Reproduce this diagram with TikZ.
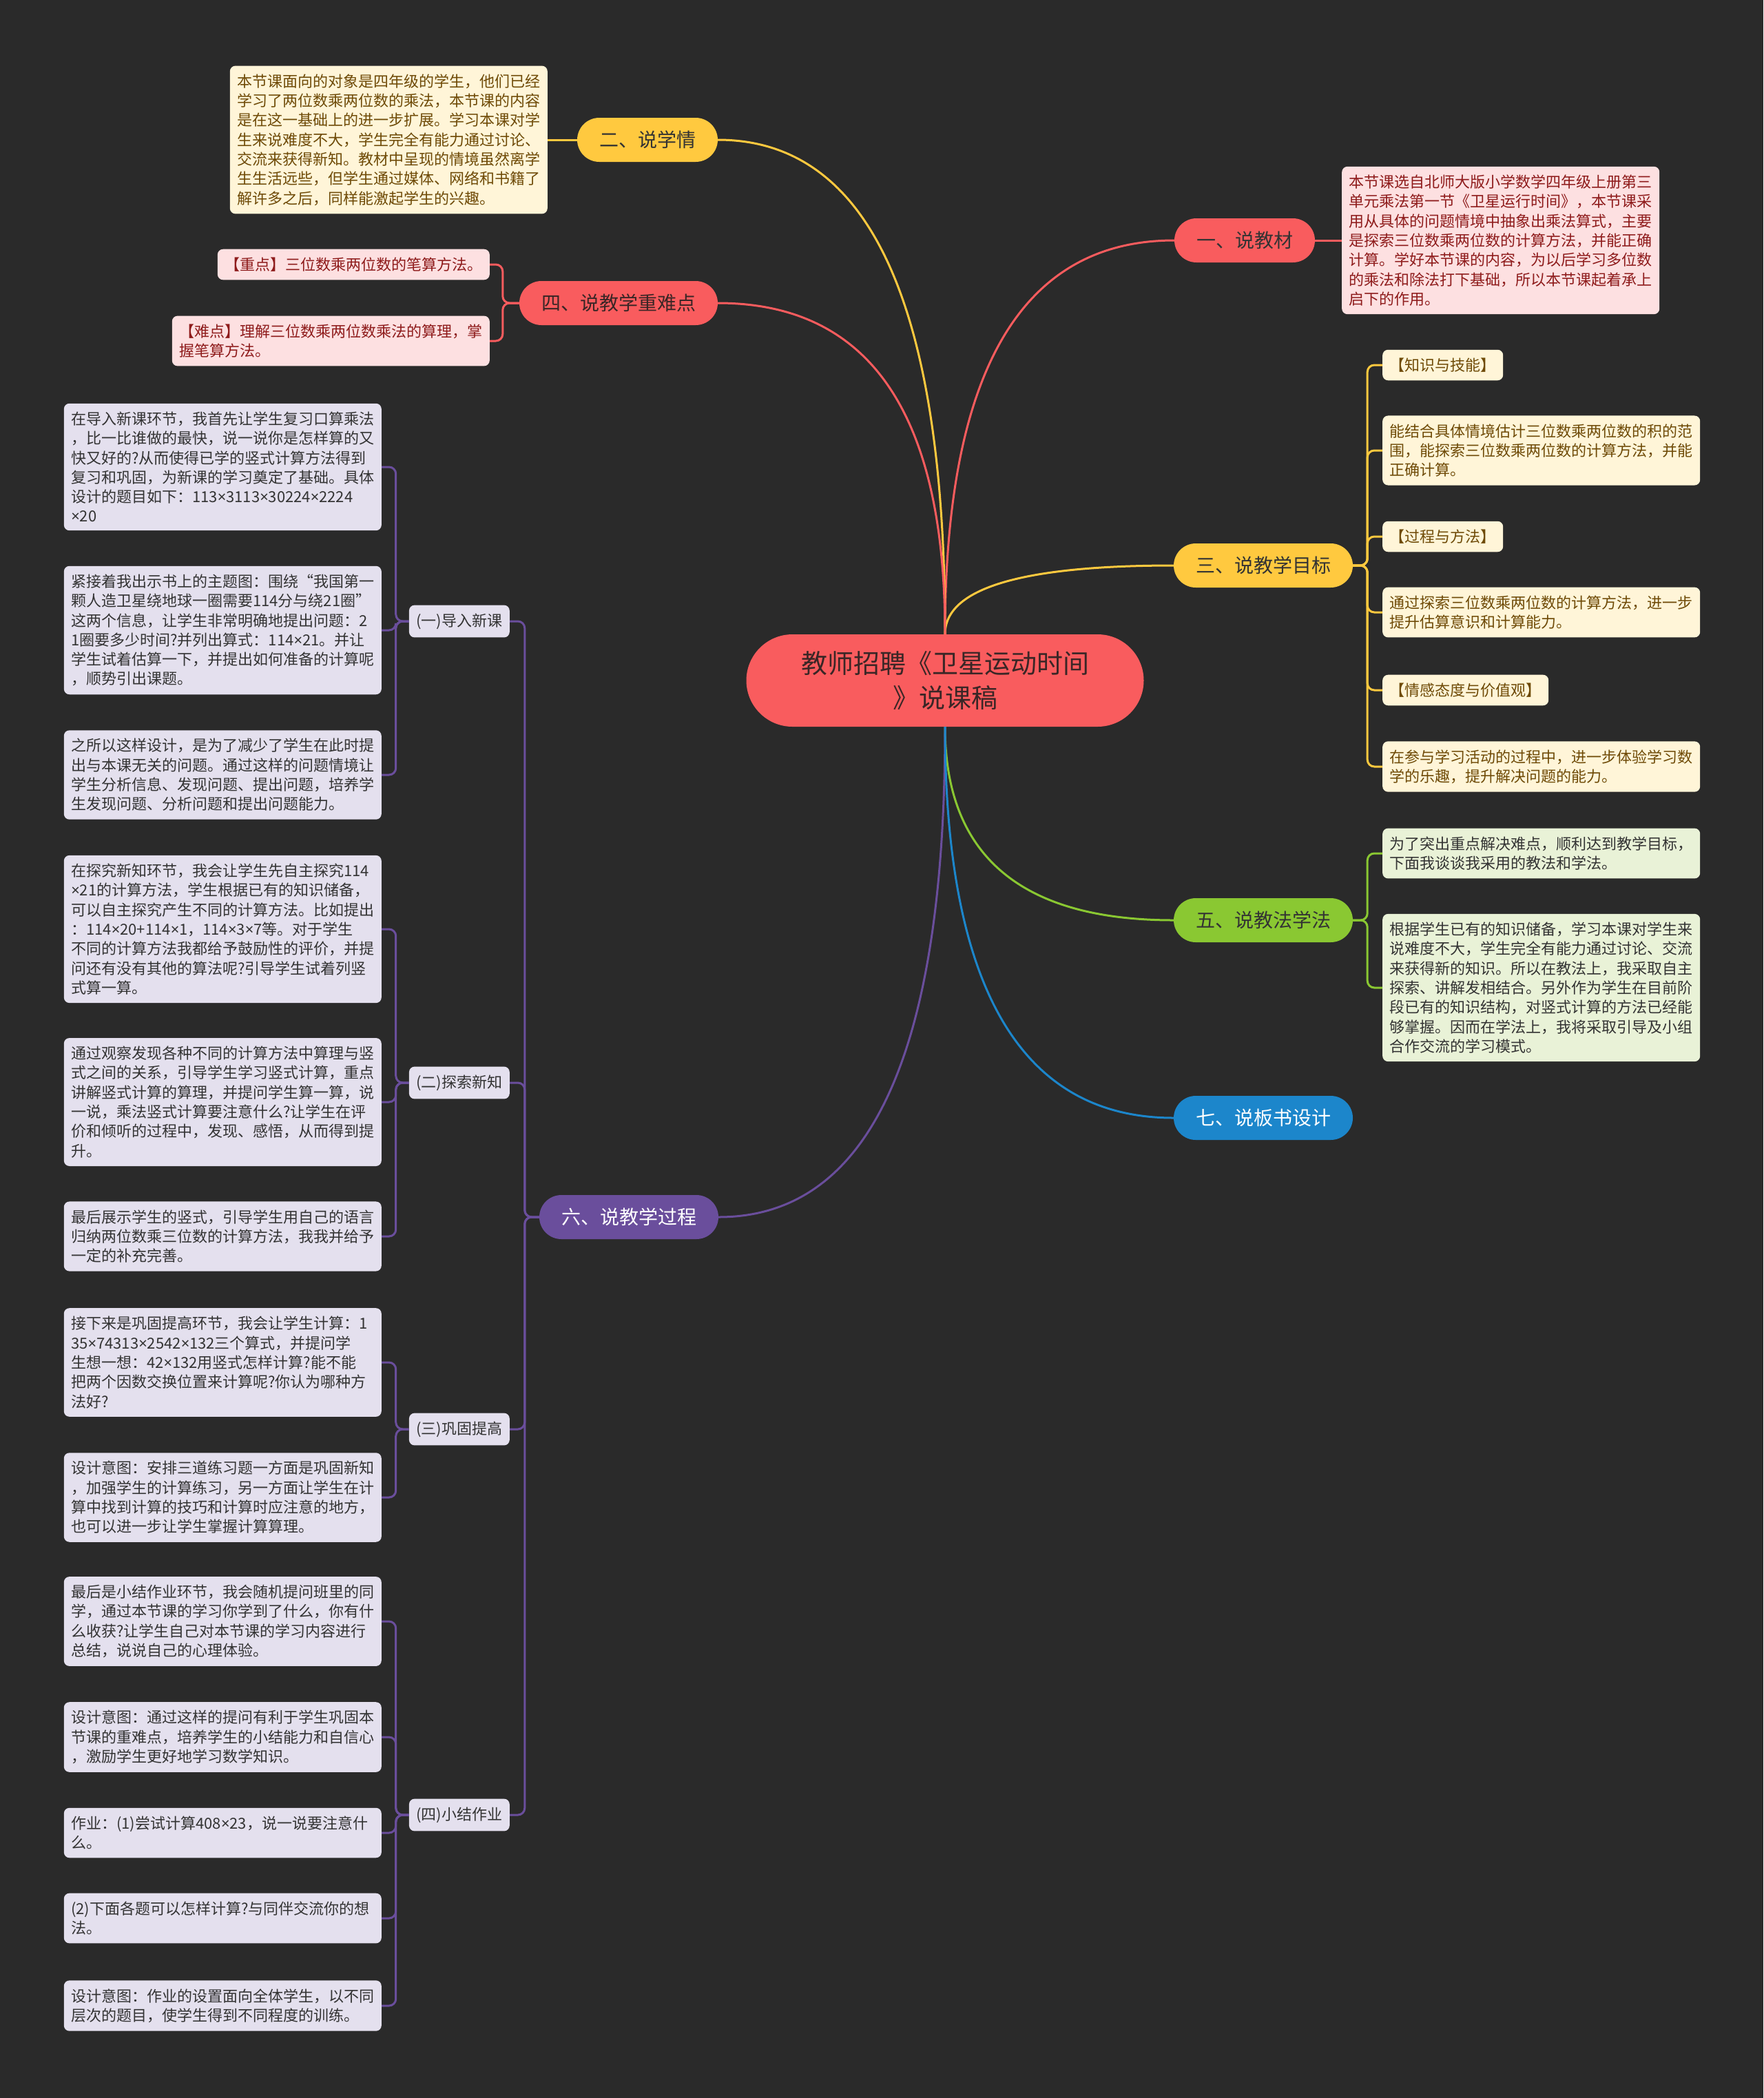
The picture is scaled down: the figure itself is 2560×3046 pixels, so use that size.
\documentclass[tikz,border=0pt]{standalone}
\usepackage{fontspec}
\setmainfont{Noto Sans CJK SC}
\newfontfamily\mulfont{Noto Sans}
\newcommand\tms{{\mulfont ×}}
\usepackage{xcolor}
\usetikzlibrary{calc}

\definecolor{bg}{HTML}{2A2A2A}
\definecolor{redc}{HTML}{F95C5E}
\definecolor{yelc}{HTML}{FFC93F}
\definecolor{grnc}{HTML}{8AC832}
\definecolor{bluc}{HTML}{1C86CB}
\definecolor{purc}{HTML}{6A4E9C}
\definecolor{roottext}{HTML}{3A2626}
\definecolor{darktext}{HTML}{333333}
\definecolor{creamfill}{HTML}{FFF5D8}
\definecolor{creamtext}{HTML}{6E4A06}
\definecolor{pinkfill}{HTML}{FDE0E1}
\definecolor{pinktext}{HTML}{8E1B1B}
\definecolor{limefill}{HTML}{E9F2D7}
\definecolor{lavfill}{HTML}{E4E0EE}

\tikzset{
  root/.style={fill=redc, text=roottext, rounded corners=67pt, minimum width=577pt,
    minimum height=134pt, text width=430pt, align=center, font=\fontsize{38}{50}\selectfont},
  topic/.style={rounded corners=32pt, minimum height=64pt, inner xsep=32pt, inner ysep=0pt,
    font=\fontsize{28}{34}\selectfont},
  leaf/.style={rounded corners=8pt, inner xsep=10.5pt, inner ysep=12pt, align=left,
    font=\fontsize{22}{28.3}\selectfont},
  wide/.style={text width=440pt},
  leafcream/.style={leaf, fill=creamfill, text=creamtext},
  leafpink/.style={leaf, fill=pinkfill, text=pinktext},
  leaflime/.style={leaf, fill=limefill, text=darktext},
  leaflav/.style={leaf, fill=lavfill, text=darktext},
  wire/.style={line width=3pt, rounded corners=10pt},
  limb/.style={line width=3pt, to path={.. controls ($(\tikztostart)!0.667!(\tikztostart |- \tikztotarget)$)
    and ($(\tikztotarget)!0.667!(\tikztostart |- \tikztotarget)$) .. (\tikztotarget)}},
}

\begin{document}
\begin{tikzpicture}[x=1pt,y=-1pt]
  \fill[bg] (0,0) rectangle (2560,3046);
  \useasboundingbox (0,0) rectangle (2560,3046);

  % centre and main topics
  \node[root] (root) at (1372,988) {教师招聘《卫星运动时间\\》说课稿};
  \node[topic, fill=redc, text=darktext] (b1) at (1807,349) {一、说教材};
  \node[topic, fill=yelc, text=darktext] (b2) at (940,203) {二、说学情};
  \node[topic, fill=yelc, text=darktext] (b3) at (1834,821) {三、说教学目标};
  \node[topic, fill=redc, text=roottext] (b4) at (898,440) {四、说教学重难点};
  \node[topic, fill=grnc, text=darktext] (b5) at (1834,1336) {五、说教法学法};
  \node[topic, fill=purc, text=white] (b6) at (913,1767) {六、说教学过程};
  \node[topic, fill=bluc, text=white] (b7) at (1834,1623) {七、说板书设计};

  \draw[limb, redc] (root.north) to (b1.west);
  \draw[limb, yelc] (root.north) to (b2.east);
  \draw[limb, yelc] (root.north) to (b3.west);
  \draw[limb, redc] (root.north) to (b4.east);
  \draw[limb, grnc] (root.south) to (b5.west);
  \draw[limb, purc] (root.south) to (b6.east);
  \draw[limb, bluc] (root.south) to (b7.west);

  % 一
  \node[leafpink, wide, anchor=west] (m1) at (1948,349) {本节课选自北师大版小学数学四年级上册第三\\单元乘法第一节《卫星运行时间》，本节课采\\用从具体的问题情境中抽象出乘法算式，主要\\是探索三位数乘两位数的计算方法，并能正确\\计算。学好本节课的内容，为以后学习多位数\\的乘法和除法打下基础，所以本节课起着承上\\启下的作用。};
  \draw[wire, redc] (b1.east) -- (m1.west);

  % 二
  \node[leafcream, wide, anchor=east] (p2) at (795,203) {本节课面向的对象是四年级的学生，他们已经\\学习了两位数乘两位数的乘法，本节课的内容\\是在这一基础上的进一步扩展。学习本课对学\\生来说难度不大，学生完全有能力通过讨论、\\交流来获得新知。教材中呈现的情境虽然离学\\生生活远些，但学生通过媒体、网络和书籍了\\解许多之后，同样能激起学生的兴趣。};
  \draw[wire, yelc] (b2.west) -- (p2.east);

  % 三
  \node[leafcream, anchor=west] (g1) at (2007,530) {【知识与技能】};
  \node[leafcream, wide, anchor=west] (g2) at (2007,654) {能结合具体情境估计三位数乘两位数的积的范\\围，能探索三位数乘两位数的计算方法，并能\\正确计算。};
  \node[leafcream, anchor=west] (g3) at (2007,779) {【过程与方法】};
  \node[leafcream, wide, anchor=west] (g4) at (2007,889) {通过探索三位数乘两位数的计算方法，进一步\\提升估算意识和计算能力。};
  \node[leafcream, anchor=west] (g5) at (2007,1002) {【情感态度与价值观】};
  \node[leafcream, wide, anchor=west] (g6) at (2007,1113) {在参与学习活动的过程中，进一步体验学习数\\学的乐趣，提升解决问题的能力。};
  \foreach \nm in {g1,g2,g3,g4,g5,g6}
    \draw[wire, yelc] (b3.east) -- ++(21,0) |- (\nm.west);

  % 四
  \node[leafpink, anchor=east] (d1) at (711,384) {【重点】三位数乘两位数的笔算方法。};
  \node[leafpink, wide, anchor=east] (d2) at (711,495) {【难点】理解三位数乘两位数乘法的算理，掌\\握笔算方法。};
  \foreach \nm in {d1,d2}
    \draw[wire, redc] (b4.west) -- ++(-24,0) |- (\nm.east);

  % 五
  \node[leaflime, wide, anchor=west] (f1) at (2007,1239) {为了突出重点解决难点，顺利达到教学目标，\\下面我谈谈我采用的教法和学法。};
  \node[leaflime, wide, anchor=west] (f2) at (2007,1434) {根据学生已有的知识储备，学习本课对学生来\\说难度不大，学生完全有能力通过讨论、交流\\来获得新的知识。所以在教法上，我采取自主\\探索、讲解发相结合。另外作为学生在目前阶\\段已有的知识结构，对竖式计算的方法已经能\\够掌握。因而在学法上，我将采取引导及小组\\合作交流的学习模式。};
  \foreach \nm in {f1,f2}
    \draw[wire, grnc] (b5.east) -- ++(21,0) |- (\nm.west);

  % 六
  \node[leaflav, anchor=east] (s1) at (740,902) {(一)导入新课};
  \node[leaflav, anchor=east] (s2) at (740,1572) {(二)探索新知};
  \node[leaflav, anchor=east] (s3) at (740,2075) {(三)巩固提高};
  \node[leaflav, anchor=east] (s4) at (740,2635) {(四)小结作业};
  \foreach \nm in {s1,s2,s3,s4}
    \draw[wire, purc] (b6.west) -- ++(-21,0) |- (\nm.east);

  \node[leaflav, wide, anchor=east] (a1) at (554,678) {在导入新课环节，我首先让学生复习口算乘法\\，比一比谁做的最快，说一说你是怎样算的又\\快又好的?从而使得已学的竖式计算方法得到\\复习和巩固，为新课的学习奠定了基础。具体\\设计的题目如下：113\tms3113\tms30224\tms2224\\\tms20};
  \node[leaflav, wide, anchor=east] (a2) at (554,915) {紧接着我出示书上的主题图：围绕“我国第一\\颗人造卫星绕地球一圈需要114分与绕21圈”\\这两个信息，让学生非常明确地提出问题：2\\1圈要多少时间?并列出算式：114\tms21。并让\\学生试着估算一下，并提出如何准备的计算呢\\，顺势引出课题。};
  \node[leaflav, wide, anchor=east] (a3) at (554,1125) {之所以这样设计，是为了减少了学生在此时提\\出与本课无关的问题。通过这样的问题情境让\\学生分析信息、发现问题、提出问题，培养学\\生发现问题、分析问题和提出问题能力。};
  \node[leaflav, wide, anchor=east] (e1) at (554,1349) {在探究新知环节，我会让学生先自主探究114\\\tms21的计算方法，学生根据已有的知识储备，\\可以自主探究产生不同的计算方法。比如提出\\：114\tms20+114\tms1，114\tms3\tms7等。对于学生\\不同的计算方法我都给予鼓励性的评价，并提\\问还有没有其他的算法呢?引导学生试着列竖\\式算一算。};
  \node[leaflav, wide, anchor=east] (e2) at (554,1600) {通过观察发现各种不同的计算方法中算理与竖\\式之间的关系，引导学生学习竖式计算，重点\\讲解竖式计算的算理，并提问学生算一算，说\\一说，乘法竖式计算要注意什么?让学生在评\\价和倾听的过程中，发现、感悟，从而得到提\\升。};
  \node[leaflav, wide, anchor=east] (e3) at (554,1795) {最后展示学生的竖式，引导学生用自己的语言\\归纳两位数乘三位数的计算方法，我我并给予\\一定的补充完善。};
  \node[leaflav, wide, anchor=east] (c1) at (554,1978) {接下来是巩固提高环节，我会让学生计算：1\\35\tms74313\tms2542\tms132三个算式，并提问学\\生想一想：42\tms132用竖式怎样计算?能不能\\把两个因数交换位置来计算呢?你认为哪种方\\法好?};
  \node[leaflav, wide, anchor=east] (c2) at (554,2174) {设计意图：安排三道练习题一方面是巩固新知\\，加强学生的计算练习，另一方面让学生在计\\算中找到计算的技巧和计算时应注意的地方，\\也可以进一步让学生掌握计算算理。};
  \node[leaflav, wide, anchor=east] (h1) at (554,2354) {最后是小结作业环节，我会随机提问班里的同\\学，通过本节课的学习你学到了什么，你有什\\么收获?让学生自己对本节课的学习内容进行\\总结，说说自己的心理体验。};
  \node[leaflav, wide, anchor=east] (h2) at (554,2522) {设计意图：通过这样的提问有利于学生巩固本\\节课的重难点，培养学生的小结能力和自信心\\，激励学生更好地学习数学知识。};
  \node[leaflav, wide, anchor=east] (h3) at (554,2661) {作业：(1)尝试计算408\tms23，说一说要注意什\\么。};
  \node[leaflav, wide, anchor=east] (h4) at (554,2785) {(2)下面各题可以怎样计算?与同伴交流你的想\\法。};
  \node[leaflav, wide, anchor=east] (h5) at (554,2912) {设计意图：作业的设置面向全体学生，以不同\\层次的题目，使学生得到不同程度的训练。};

  \foreach \s/\nm in {s1/a1,s1/a2,s1/a3,s2/e1,s2/e2,s2/e3,s3/c1,s3/c2,s4/h1,s4/h2,s4/h3,s4/h4,s4/h5}
    \draw[wire, purc] (\s.west) -- ++(-19,0) |- (\nm.east);
\end{tikzpicture}
\end{document}
